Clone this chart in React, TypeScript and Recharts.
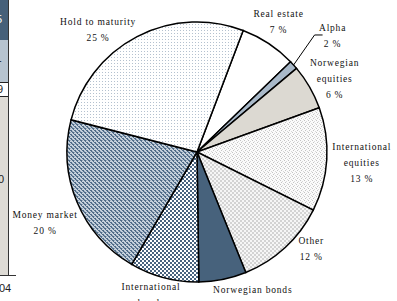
import { PieChart, Pie, Cell } from "recharts";

// slices clockwise, starting at the top-right edge of "Hold to maturity"
const NAMES = [
  "Real estate",
  "Alpha",
  "Norwegian equities",
  "International equities",
  "Other",
  "Norwegian bonds",
  "International bonds",
  "Money market",
  "Hold to maturity",
];
const SHARES = [7.0, 1.1, 5.6, 12.9, 11.5, 5.9, 8.6, 20.6, 26.8];
const LABEL_LINES = [
  ["Real estate", "7 %"],
  ["Alpha", "2 %"],
  ["Norwegian", "equities", "6 %"],
  ["International", "equities", "13 %"],
  ["Other", "12 %"],
  ["Norwegian bonds", "6 %"],
  ["International", "bonds", "9 %"],
  ["Money market", "20 %"],
  ["Hold to maturity", "25 %"],
];

const FILLS = [
  "#ffffff",
  "#a9b9c9",
  "#dcd9d2",
  "url(#pIntlEq)",
  "url(#pOther)",
  "#47627c",
  "url(#pIntlBonds)",
  "url(#pMoney)",
  "url(#pHold)",
];

// label offset from the arc point at the slice middle
const LABEL_OFFSET: [number, number][] = [
  [10, -29],
  [39, -37],
  [25, -24],
  [35, -13],
  [26, -6],
  [30, 11],
  [-13, 9],
  [-32, 13],
  [-39, -15],
];
const ALPHA_LEADER: [number, number][] = [
  [21, -30],
  [29, -30],
];

const RAD = Math.PI / 180;
const FONT = "'Liberation Serif', 'Times New Roman', serif";

function renderLabel(props: any) {
  const { cx, cy, midAngle, outerRadius, index } = props;
  const px = cx + outerRadius * Math.cos(-midAngle * RAD);
  const py = cy + outerRadius * Math.sin(-midAngle * RAD);
  const [dx, dy] = LABEL_OFFSET[index];
  const lines = LABEL_LINES[index];
  return (
    <g key={`lbl-${index}`}>
      {index === 1 && (
        <polyline
          points={[[0, 0], ...ALPHA_LEADER].map(([a, b]) => `${px + a},${py + b}`).join(" ")}
          fill="none"
          stroke="#000"
          strokeWidth={1}
        />
      )}
      <text
        x={px + dx}
        y={py + dy}
        textAnchor="middle"
        dominantBaseline="central"
        fontFamily={FONT}
        fontSize={9.5}
        letterSpacing={0.8}
        fill="#111"
      >
        {lines.map((l, i) => (
          <tspan key={i} x={px + dx} dy={i === 0 ? 0 : 16}>
            {l}
          </tspan>
        ))}
      </text>
    </g>
  );
}

function Patterns() {
  return (
    <svg width={0} height={0} style={{ position: "absolute" }}>
      <defs>
        <pattern id="pHold" width={3} height={3} patternUnits="userSpaceOnUse">
          <rect width={3} height={3} fill="#ffffff" />
          <rect width={1} height={1} fill="#b4c1cf" />
        </pattern>
        <pattern id="pMoney" width={4} height={4} patternUnits="userSpaceOnUse">
          <rect width={4} height={4} fill="#c6d1dc" />
          <rect x={0} y={0} width={2} height={1} fill="#4f6b87" />
          <rect x={1} y={1} width={1} height={1} fill="#4f6b87" />
          <rect x={2} y={2} width={2} height={1} fill="#4f6b87" />
          <rect x={3} y={3} width={1} height={1} fill="#4f6b87" />
          <rect x={0} y={3} width={1} height={1} fill="#7f95ab" />
          <rect x={2} y={0} width={1} height={1} fill="#9aacbe" />
        </pattern>
        <pattern id="pIntlBonds" width={4} height={4} patternUnits="userSpaceOnUse">
          <rect width={4} height={4} fill="#ffffff" />
          <rect x={0} y={0} width={2} height={2} fill="#48637f" />
          <rect x={2} y={2} width={2} height={2} fill="#48637f" />
        </pattern>
        <pattern id="pOther" width={4} height={4} patternUnits="userSpaceOnUse">
          <rect width={4} height={4} fill="#f6f6f6" />
          <rect x={0} y={0} width={2} height={2} fill="#d3d3d3" />
          <rect x={2} y={2} width={2} height={2} fill="#d3d3d3" />
        </pattern>
        <pattern id="pIntlEq" width={4} height={4} patternUnits="userSpaceOnUse">
          <rect width={4} height={4} fill="#fbfbfb" />
          <rect x={0} y={0} width={1} height={1} fill="#c4c4c4" />
          <rect x={2} y={1} width={1} height={1} fill="#d8d8d8" />
          <rect x={1} y={2} width={1} height={1} fill="#c4c4c4" />
          <rect x={3} y={3} width={1} height={1} fill="#d8d8d8" />
        </pattern>
      </defs>
    </svg>
  );
}

// cropped edge of the neighbouring figure on the left
function LeftFragment() {
  const txt = { position: "absolute" as const, fontFamily: "'Liberation Sans', Arial, sans-serif", fontSize: 11 };
  return (
    <div style={{ position: "absolute", left: 0, top: 0, width: 20, height: 301 }}>
      <div style={{ position: "absolute", left: 0, top: 0, width: 8, height: 40, background: "#466079" }} />
      <div style={{ position: "absolute", left: 0, top: 40, width: 8, height: 42, background: "#b7c4d0" }} />
      <div style={{ position: "absolute", left: 0, top: 82, width: 8, height: 15, background: "#ffffff", borderTop: "1px solid #222", borderBottom: "1px solid #222", boxSizing: "border-box" }} />
      <div style={{ position: "absolute", left: 0, top: 97, width: 8, height: 178, background: "#dedbd5" }} />
      <div style={{ position: "absolute", left: 8, top: 0, width: 1, height: 276, background: "#333" }} />
      <div style={{ position: "absolute", left: 0, top: 275, width: 16, height: 1, background: "#333" }} />
      <span style={{ ...txt, left: -4, top: 13, color: "#fff" }}>5</span>
      <span style={{ ...txt, left: -2, top: 54, color: "#222" }}>-</span>
      <span style={{ ...txt, left: -3, top: 83, color: "#222" }}>9</span>
      <span style={{ ...txt, left: -2, top: 173, color: "#222" }}>0</span>
      <span style={{ ...txt, left: -1, top: 282, color: "#222" }}>04</span>
    </div>
  );
}

export default function App() {
  const data = NAMES.map((name, i) => ({ name, value: SHARES[i] }));
  return (
    <div style={{ position: "absolute", left: 0, top: 0, width: 397, height: 301, background: "#fff", overflow: "hidden" }}>
      <Patterns />
      <LeftFragment />
      <PieChart width={397} height={301} margin={{ top: 0, right: 0, bottom: 0, left: 0 }}>
        <Pie
          data={data}
          dataKey="value"
          nameKey="name"
          cx={197}
          cy={152}
          outerRadius={130}
          startAngle={69.2}
          endAngle={-290.8}
          stroke="#000"
          strokeWidth={1.5}
          label={renderLabel}
          labelLine={false}
          isAnimationActive={false}
        >
          {data.map((d, i) => (
            <Cell key={d.name} fill={FILLS[i]} />
          ))}
        </Pie>
      </PieChart>
    </div>
  );
}
